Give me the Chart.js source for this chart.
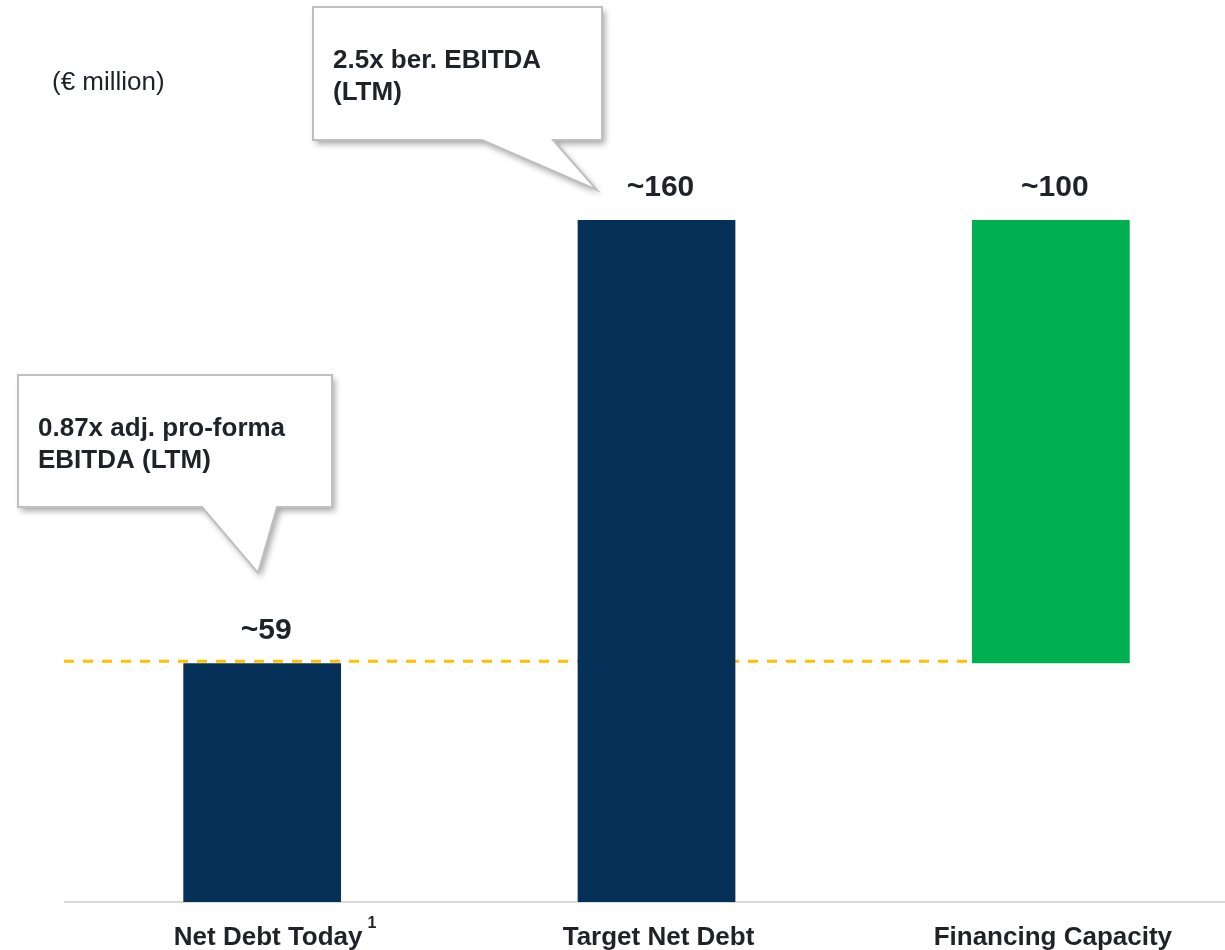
<!DOCTYPE html>
<html>
<head>
<meta charset="utf-8">
<script src="https://cdn.jsdelivr.net/npm/chart.js@4/dist/chart.umd.min.js"></script>
<style>
    html, body { margin: 0; padding: 0; background: #fff; overflow: hidden; }
    #wrap { width: 1250px; height: 950px; position: relative; }
</style>
</head>
<body>
<div id="wrap"><canvas id="chartCanvas"></canvas></div>
<script>
// data
const categories = ["Net Debt Today", "Target Net Debt", "Financing Capacity"];
const footnotes = ["1", "", ""];
const netDebtToday = 59;
const targetNetDebt = 160;
const barValues = [netDebtToday, targetNetDebt, [netDebtToday, targetNetDebt]];
const valueLabels = ["~59", "~160", "~100"];
const barColors = ["#053158", "#053158", "#00B050"];
const unitLabel = "(€ million)";

// callout boxes (layout only): box = [left, top, right, bottom], tail = [baseLeft, baseRight, tipX, tipY]
const callouts = [
    { lines: ["2.5x ber. EBITDA", "(LTM)"], box: [313, 7, 602, 140], tail: [482, 553, 597, 190] },
    { lines: ["0.87x adj. pro-forma", "EBITDA (LTM)"], box: [18, 375, 332, 507], tail: [202, 277, 258, 573] }
];

const FONT = "'Liberation Sans', Arial, sans-serif";
const TEXT = "#1f2329";

function drawCallout(ctx, c) {
    const [l, t, r, b] = c.box;
    const [bl, br, tx, ty] = c.tail;
    ctx.save();
    ctx.beginPath();
    ctx.moveTo(l, t);
    ctx.lineTo(r, t);
    ctx.lineTo(r, b);
    ctx.lineTo(br, b);
    ctx.lineTo(tx, ty);
    ctx.lineTo(bl, b);
    ctx.lineTo(l, b);
    ctx.closePath();
    ctx.shadowColor = "rgba(0,0,0,0.35)";
    ctx.shadowBlur = 6;
    ctx.shadowOffsetX = 3;
    ctx.shadowOffsetY = 4;
    ctx.fillStyle = "#ffffff";
    ctx.fill();
    ctx.shadowColor = "transparent";
    ctx.strokeStyle = "#bfbfbf";
    ctx.lineWidth = 2;
    ctx.stroke();

    ctx.fillStyle = TEXT;
    ctx.font = "bold 26px " + FONT;
    ctx.textAlign = "left";
    ctx.textBaseline = "alphabetic";
    c.lines.forEach((line, i) => {
        ctx.fillText(line, l + 20, t + 61 + i * 32);
    });
    ctx.restore();
}

const annotate = {
    id: "annotate",
    beforeDatasetsDraw(chart) {
        const ctx = chart.ctx;
        const y = chart.scales.y.getPixelForValue(netDebtToday) - 2;
        const lastBar = chart.getDatasetMeta(0).data[2];
        ctx.save();
        ctx.strokeStyle = "#FFC000";
        ctx.lineWidth = 3;
        ctx.setLineDash([10, 9]);
        ctx.beginPath();
        ctx.moveTo(chart.chartArea.left - 1, y);
        ctx.lineTo(lastBar.x - lastBar.width / 2, y);
        ctx.stroke();
        ctx.restore();
    },
    afterDatasetsDraw(chart) {
        const ctx = chart.ctx;
        const bars = chart.getDatasetMeta(0).data;
        ctx.save();

        // value labels
        ctx.fillStyle = TEXT;
        ctx.font = "bold 30px " + FONT;
        ctx.textAlign = "center";
        ctx.textBaseline = "alphabetic";
        bars.forEach((bar, i) => {
            ctx.fillText(valueLabels[i], bar.x + 4, bar.y - 24);
        });

        // category labels
        categories.forEach((cat, i) => {
            const x = chart.scales.x.getPixelForValue(i);
            ctx.font = "bold 26px " + FONT;
            ctx.textAlign = "center";
            const shift = footnotes[i] ? 6 : 2;
            ctx.fillText(cat, x + shift, 945);
            if (footnotes[i]) {
                const w = ctx.measureText(cat).width;
                ctx.font = "bold 16px " + FONT;
                ctx.textAlign = "left";
                ctx.fillText(footnotes[i], x + shift + w / 2 + 5, 928);
            }
        });

        // unit
        ctx.font = "26px " + FONT;
        ctx.textAlign = "left";
        ctx.fillText(unitLabel, 52, 90);
        ctx.restore();

        callouts.forEach(c => drawCallout(ctx, c));
    }
};

const ctx = document.getElementById("chartCanvas").getContext("2d");

new Chart(ctx, {
    type: "bar",
    data: {
        labels: categories,
        datasets: [{
            data: barValues,
            backgroundColor: barColors,
            borderWidth: 0,
            barPercentage: 0.4,
            categoryPercentage: 1.0
        }]
    },
    options: {
        responsive: true,
        maintainAspectRatio: false,
        animation: false,
        layout: { padding: { top: 220, left: 65, right: 2, bottom: 48 } },
        plugins: {
            legend: { display: false },
            tooltip: { enabled: false }
        },
        scales: {
            x: {
                offset: true,
                grid: { display: false, drawTicks: false },
                border: { display: true, color: "#d9d9d9", width: 2 },
                ticks: { display: false }
            },
            y: {
                display: false,
                // axis floor tuned so both bar tops sit where the reference puts them
                min: 4.6,
                max: 160
            }
        }
    },
    plugins: [annotate]
});
</script>
</body>
</html>
